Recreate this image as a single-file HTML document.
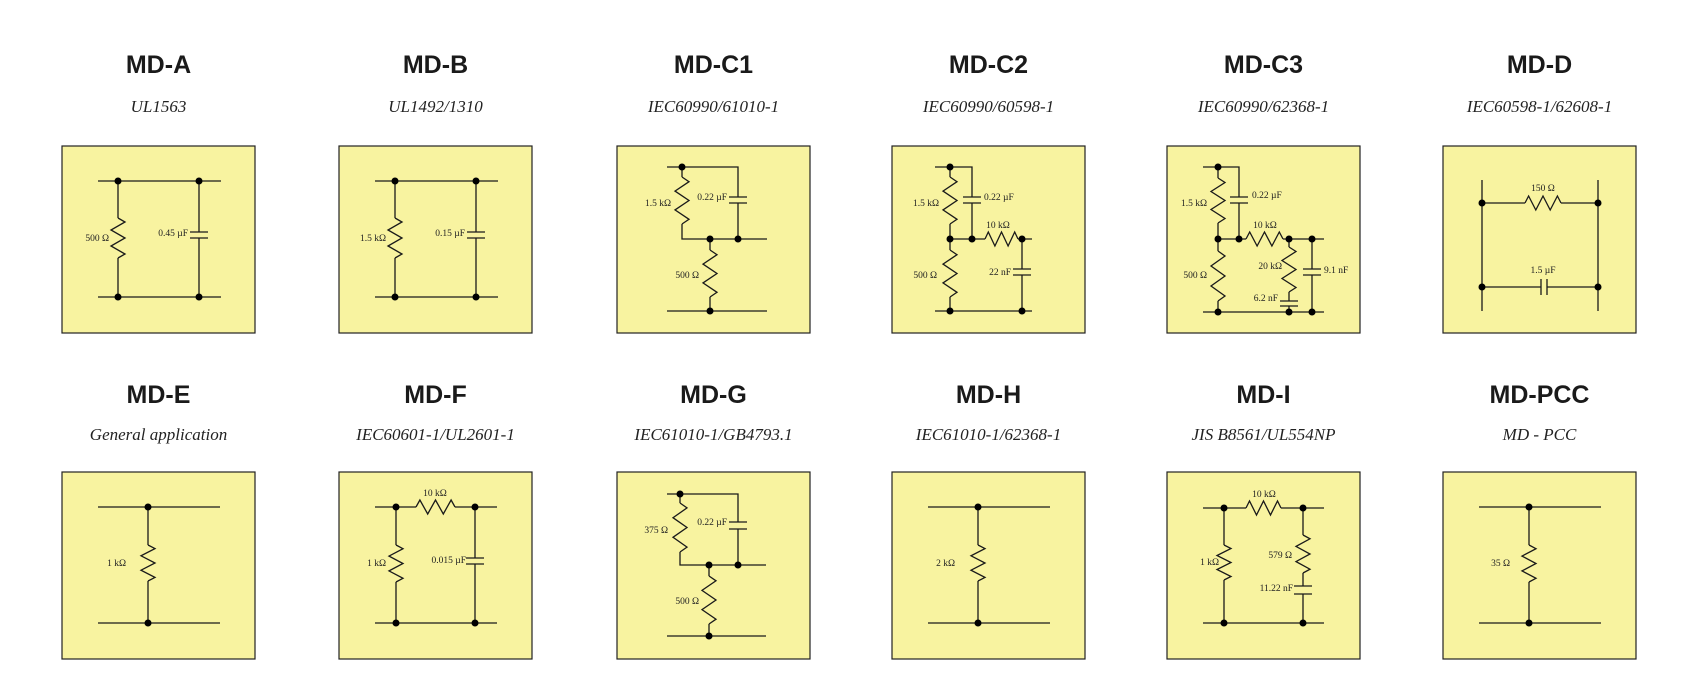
<!DOCTYPE html>
<html><head><meta charset="utf-8"><style>
html,body{margin:0;padding:0;background:#fff;}
svg{display:block;}
.t{font-family:"Liberation Sans",sans-serif;font-weight:bold;font-size:25px;fill:#1a1a1a;text-anchor:middle;}
.s{font-family:"Liberation Serif",serif;font-style:italic;font-size:17px;fill:#222;text-anchor:middle;}
.l{font-family:"Liberation Serif",serif;font-size:9.5px;fill:#222;}
.r{text-anchor:end;}
.m{text-anchor:middle;}
.w{stroke:#1a1a1a;stroke-width:1.3;fill:none;}
.box{fill:#f8f3a0;stroke:#222;stroke-width:1.2;}
</style></head><body>
<svg width="1706" height="691" viewBox="0 0 1706 691" xmlns="http://www.w3.org/2000/svg">
<defs>
<path id="R" d="M0,0 L7,4 L-7,12 L7,20 L-7,28 L7,36 L0,40" class="w" vector-effect="non-scaling-stroke"/>
</defs>

<text class="t" x="158.5" y="73">MD-A</text><text class="s" x="158.5" y="112">UL1563</text>
<text class="t" x="435.5" y="73">MD-B</text><text class="s" x="435.5" y="112">UL1492/1310</text>
<text class="t" x="713.5" y="73">MD-C1</text><text class="s" x="713.5" y="112">IEC60990/61010-1</text>
<text class="t" x="988.5" y="73">MD-C2</text><text class="s" x="988.5" y="112">IEC60990/60598-1</text>
<text class="t" x="1263.5" y="73">MD-C3</text><text class="s" x="1263.5" y="112">IEC60990/62368-1</text>
<text class="t" x="1539.5" y="73">MD-D</text><text class="s" x="1539.5" y="112">IEC60598-1/62608-1</text>
<text class="t" x="158.5" y="403">MD-E</text><text class="s" x="158.5" y="440">General application</text>
<text class="t" x="435.5" y="403">MD-F</text><text class="s" x="435.5" y="440">IEC60601-1/UL2601-1</text>
<text class="t" x="713.5" y="403">MD-G</text><text class="s" x="713.5" y="440">IEC61010-1/GB4793.1</text>
<text class="t" x="988.5" y="403">MD-H</text><text class="s" x="988.5" y="440">IEC61010-1/62368-1</text>
<text class="t" x="1263.5" y="403">MD-I</text><text class="s" x="1263.5" y="440">JIS B8561/UL554NP</text>
<text class="t" x="1539.5" y="403">MD-PCC</text><text class="s" x="1539.5" y="440">MD - PCC</text>

<g transform="translate(62,146)">
<rect class="box" x="0" y="0" width="193" height="187"/>
<path class="w" d="M36,35H159M36,151H159M56,35V72M56,112V151M137,35V86M137,92V151M128,86H146M128,92H146"/>
<use href="#R" transform="translate(56,72)"/>
<circle cx="56" cy="35" r="3.5"/><circle cx="137" cy="35" r="3.5"/><circle cx="56" cy="151" r="3.5"/><circle cx="137" cy="151" r="3.5"/>
<text class="l r" x="47" y="95">500 Ω</text><text class="l r" x="126" y="90">0.45 µF</text>
</g>
<g transform="translate(339,146)">
<rect class="box" x="0" y="0" width="193" height="187"/>
<path class="w" d="M36,35H159M36,151H159M56,35V72M56,112V151M137,35V86M137,92V151M128,86H146M128,92H146"/>
<use href="#R" transform="translate(56,72)"/>
<circle cx="56" cy="35" r="3.5"/><circle cx="137" cy="35" r="3.5"/><circle cx="56" cy="151" r="3.5"/><circle cx="137" cy="151" r="3.5"/>
<text class="l r" x="47" y="95">1.5 kΩ</text><text class="l r" x="126" y="90">0.15 µF</text>
</g>
<g transform="translate(617,146)">
<rect class="box" x="0" y="0" width="193" height="187"/>
<path class="w" d="M50,21H121V51M121,57V93M112,51H130M112,57H130M65,21V31M65,78V93H150M93,93V104M93,151V165M50,165H150"/>
<use href="#R" transform="translate(65,31) scale(1,1.175)"/>
<use href="#R" transform="translate(93,104) scale(1,1.175)"/>
<circle cx="65" cy="21" r="3.5"/><circle cx="93" cy="93" r="3.5"/><circle cx="121" cy="93" r="3.5"/><circle cx="93" cy="165" r="3.5"/>
<text class="l r" x="54" y="60">1.5 kΩ</text><text class="l r" x="110" y="54">0.22 µF</text><text class="l r" x="82" y="132">500 Ω</text>
</g>
<g transform="translate(892,146)">
<rect class="box" x="0" y="0" width="193" height="187"/>
<path class="w" d="M43,21H80V51M80,57V93M71,51H89M71,57H89M58,21V31M58,78V104M58,151V165M58,93H93M126,93H140M130,93V123M130,129V165M121,123H139M121,129H139M43,165H140"/>
<use href="#R" transform="translate(58,31) scale(1,1.175)"/>
<use href="#R" transform="translate(58,104) scale(1,1.175)"/>
<use href="#R" transform="translate(93,93) rotate(-90) scale(1,0.825)"/>
<circle cx="58" cy="21" r="3.5"/><circle cx="58" cy="93" r="3.5"/><circle cx="80" cy="93" r="3.5"/><circle cx="130" cy="93" r="3.5"/><circle cx="58" cy="165" r="3.5"/><circle cx="130" cy="165" r="3.5"/>
<text class="l r" x="47" y="60">1.5 kΩ</text><text class="l" x="92" y="54">0.22 µF</text><text class="l m" x="106" y="82">10 kΩ</text><text class="l r" x="119" y="129">22 nF</text><text class="l r" x="45" y="132">500 Ω</text>
</g>
<g transform="translate(1167,146)">
<rect class="box" x="0" y="0" width="193" height="187"/>
<path class="w" d="M36,21H72V51M72,57V93M63,51H81M63,57H81M51,21V32M51,77V105M51,155V166M51,93H79M116,93H157M122,93V101M122,146V155M122,160V166M113,155H131M113,160H131M145,93V123M145,129V166M136,123H154M136,129H154M36,166H157"/>
<use href="#R" transform="translate(51,32) scale(1,1.125)"/>
<use href="#R" transform="translate(51,105) scale(1,1.25)"/>
<use href="#R" transform="translate(79,93) rotate(-90) scale(1,0.925)"/>
<use href="#R" transform="translate(122,101) scale(1,1.125)"/>
<circle cx="51" cy="21" r="3.5"/><circle cx="51" cy="93" r="3.5"/><circle cx="72" cy="93" r="3.5"/><circle cx="122" cy="93" r="3.5"/><circle cx="145" cy="93" r="3.5"/><circle cx="51" cy="166" r="3.5"/><circle cx="122" cy="166" r="3.5"/><circle cx="145" cy="166" r="3.5"/>
<text class="l r" x="40" y="60">1.5 kΩ</text><text class="l" x="85" y="52">0.22 µF</text><text class="l m" x="98" y="82">10 kΩ</text><text class="l r" x="115" y="123">20 kΩ</text><text class="l r" x="111" y="155">6.2 nF</text><text class="l" x="157" y="127">9.1 nF</text><text class="l r" x="40" y="132">500 Ω</text>
</g>
<g transform="translate(1443,146)">
<rect class="box" x="0" y="0" width="193" height="187"/>
<path class="w" d="M39,34V165M155,34V165M39,57H82M118,57H155M39,141H98M104,141H155M98,133V149M104,133V149"/>
<use href="#R" transform="translate(82,57) rotate(-90) scale(1,0.9)"/>
<circle cx="39" cy="57" r="3.5"/><circle cx="155" cy="57" r="3.5"/><circle cx="39" cy="141" r="3.5"/><circle cx="155" cy="141" r="3.5"/>
<text class="l m" x="100" y="45">150 Ω</text><text class="l m" x="100" y="127">1.5 µF</text>
</g>

<g transform="translate(62,472)">
<rect class="box" x="0" y="0" width="193" height="187"/>
<path class="w" d="M36,35H158M36,151H158M86,35V73M86,109V151"/>
<use href="#R" transform="translate(86,73) scale(1,0.9)"/>
<circle cx="86" cy="35" r="3.5"/><circle cx="86" cy="151" r="3.5"/>
<text class="l r" x="64" y="94">1 kΩ</text>
</g>
<g transform="translate(339,472)">
<rect class="box" x="0" y="0" width="193" height="187"/>
<path class="w" d="M36,35H77M116,35H158M36,151H158M57,35V73M57,110V151M136,35V86M136,92V151M127,86H145M127,92H145"/>
<use href="#R" transform="translate(77,35) rotate(-90) scale(1,0.975)"/>
<use href="#R" transform="translate(57,73) scale(1,0.925)"/>
<circle cx="57" cy="35" r="3.5"/><circle cx="136" cy="35" r="3.5"/><circle cx="57" cy="151" r="3.5"/><circle cx="136" cy="151" r="3.5"/>
<text class="l m" x="96" y="24">10 kΩ</text><text class="l r" x="47" y="94">1 kΩ</text><text class="l r" x="127" y="91">0.015 µF</text>
</g>
<g transform="translate(617,472)">
<rect class="box" x="0" y="0" width="193" height="187"/>
<path class="w" d="M50,22H121V50M121,57V93M112,50H130M112,57H130M63,22V31M63,80V93H149M92,93V104M92,152V164M50,164H149"/>
<use href="#R" transform="translate(63,31) scale(1,1.225)"/>
<use href="#R" transform="translate(92,104) scale(1,1.2)"/>
<circle cx="63" cy="22" r="3.5"/><circle cx="92" cy="93" r="3.5"/><circle cx="121" cy="93" r="3.5"/><circle cx="92" cy="164" r="3.5"/>
<text class="l r" x="51" y="61">375 Ω</text><text class="l r" x="110" y="53">0.22 µF</text><text class="l r" x="82" y="132">500 Ω</text>
</g>
<g transform="translate(892,472)">
<rect class="box" x="0" y="0" width="193" height="187"/>
<path class="w" d="M36,35H158M36,151H158M86,35V73M86,109V151"/>
<use href="#R" transform="translate(86,73) scale(1,0.9)"/>
<circle cx="86" cy="35" r="3.5"/><circle cx="86" cy="151" r="3.5"/>
<text class="l r" x="63" y="94">2 kΩ</text>
</g>
<g transform="translate(1167,472)">
<rect class="box" x="0" y="0" width="193" height="187"/>
<path class="w" d="M36,36H79M114,36H157M36,151H157M57,36V73M57,108V151M136,36V63M136,101V114M136,122V151M127,114H145M127,122H145"/>
<use href="#R" transform="translate(79,36) rotate(-90) scale(1,0.875)"/>
<use href="#R" transform="translate(57,73) scale(1,0.875)"/>
<use href="#R" transform="translate(136,63) scale(1,0.95)"/>
<circle cx="57" cy="36" r="3.5"/><circle cx="136" cy="36" r="3.5"/><circle cx="57" cy="151" r="3.5"/><circle cx="136" cy="151" r="3.5"/>
<text class="l m" x="97" y="25">10 kΩ</text><text class="l r" x="52" y="93">1 kΩ</text><text class="l r" x="125" y="86">579 Ω</text><text class="l r" x="126" y="119">11.22 nF</text>
</g>
<g transform="translate(1443,472)">
<rect class="box" x="0" y="0" width="193" height="187"/>
<path class="w" d="M36,35H158M36,151H158M86,35V73M86,110V151"/>
<use href="#R" transform="translate(86,73) scale(1,0.925)"/>
<circle cx="86" cy="35" r="3.5"/><circle cx="86" cy="151" r="3.5"/>
<text class="l r" x="67" y="94">35 Ω</text>
</g>
</svg>
</body></html>
